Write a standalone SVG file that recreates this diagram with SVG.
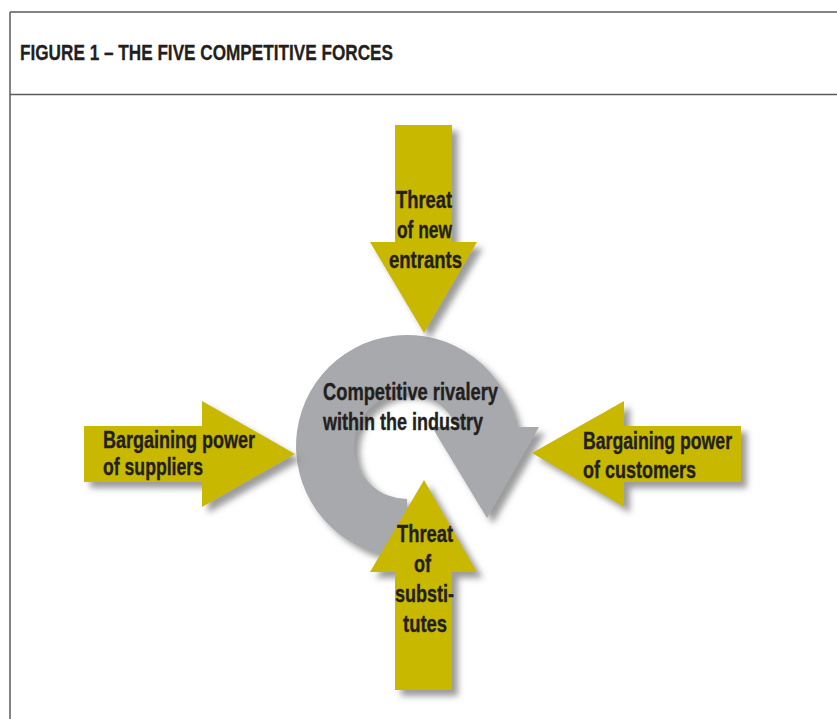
<svg xmlns="http://www.w3.org/2000/svg" width="837" height="719" viewBox="0 0 837 719">
  <defs>
    <filter id="drop" x="-20%" y="-20%" width="150%" height="150%">
      <feGaussianBlur in="SourceAlpha" stdDeviation="3" result="b"/>
      <feOffset in="b" dx="6" dy="6" result="o"/>
      <feFlood flood-color="#7a7a7a" flood-opacity="0.75"/>
      <feComposite in2="o" operator="in" result="s"/>
      <feMerge>
        <feMergeNode in="s"/>
        <feMergeNode in="SourceGraphic"/>
      </feMerge>
    </filter>
  </defs>
  <style>
    .frame { fill: none; stroke: #5a5a5a; stroke-width: 1.5; }
    .force { fill: #c9b800; }
    .rival { fill: #a7a9ac; }
    .lbl { font-family: "Liberation Sans Narrow", "Liberation Sans", Arial, sans-serif; font-weight: bold; fill: #231f20; stroke: #231f20; stroke-width: 0.4; font-size: 24px; }
    .title { font-family: "Liberation Sans Narrow", "Liberation Sans", Arial, sans-serif; font-weight: bold; fill: #231f20; stroke: #231f20; stroke-width: 0.3; font-size: 21.5px; }
  </style>

  <rect width="837" height="719" fill="#ffffff"/>

  <!-- figure frame and header -->
  <g id="frame">
    <line class="frame" x1="10" y1="12" x2="837" y2="12"/>
    <line class="frame" x1="10" y1="12" x2="10" y2="719"/>
    <line class="frame" x1="10" y1="94.5" x2="837" y2="94.5" stroke-width="2"/>
    <text class="title" x="20" y="60" textLength="373" lengthAdjust="spacingAndGlyphs">FIGURE 1 – THE FIVE COMPETITIVE FORCES</text>
  </g>

  <!-- central rivalry: circular arrow -->
  <g id="rivalry">
    <g filter="url(#drop)">
      <path class="rival" d="M407,557 A111,111 0 1 1 516.4,427 L456.5,427 A53,53 0 1 0 407,499 Z"/>
      <polygon class="rival" points="432,427 539,427 487,518"/>
    </g>
  </g>

  <!-- threat of new entrants (downward arrow) -->
  <g id="new-entrants">
    <polygon class="force" filter="url(#drop)" points="395,125 452,125 452,242 477,242 424,333 370,242 395,242"/>
    <text class="lbl" x="424" y="208" text-anchor="middle" textLength="56" lengthAdjust="spacingAndGlyphs">Threat</text>
    <text class="lbl" x="424.5" y="238" text-anchor="middle" textLength="55" lengthAdjust="spacingAndGlyphs">of new</text>
    <text class="lbl" x="425.5" y="268" text-anchor="middle" textLength="73" lengthAdjust="spacingAndGlyphs">entrants</text>
  </g>

  <!-- bargaining power of suppliers (rightward arrow) -->
  <g id="suppliers">
    <polygon class="force" filter="url(#drop)" points="84,426 202,426 202,401 295,454 202,507 202,482 84,482"/>
    <text class="lbl" x="103" y="448" textLength="152" lengthAdjust="spacingAndGlyphs">Bargaining power</text>
    <text class="lbl" x="103" y="475" textLength="100" lengthAdjust="spacingAndGlyphs">of suppliers</text>
  </g>

  <!-- bargaining power of customers (leftward arrow) -->
  <g id="customers">
    <polygon class="force" filter="url(#drop)" points="741,426 624,426 624,401 532,453 624,507 624,482 741,482"/>
    <text class="lbl" x="583" y="449" textLength="149" lengthAdjust="spacingAndGlyphs">Bargaining power</text>
    <text class="lbl" x="583" y="478" textLength="113" lengthAdjust="spacingAndGlyphs">of customers</text>
  </g>

  <!-- threat of substitutes (upward arrow) -->
  <g id="substitutes">
    <polygon class="force" filter="url(#drop)" points="424,480 477,572 452,572 452,690 395,690 395,572 370,572"/>
    <text class="lbl" x="425" y="542" text-anchor="middle" textLength="56" lengthAdjust="spacingAndGlyphs">Threat</text>
    <text class="lbl" x="422.5" y="572" text-anchor="middle" textLength="17" lengthAdjust="spacingAndGlyphs">of</text>
    <text class="lbl" x="424.5" y="602" text-anchor="middle" textLength="59" lengthAdjust="spacingAndGlyphs">substi-</text>
    <text class="lbl" x="425" y="632" text-anchor="middle" textLength="44" lengthAdjust="spacingAndGlyphs">tutes</text>
  </g>

  <!-- rivalry label sits above all shapes -->
  <g id="rivalry-label">
    <text class="lbl" x="323" y="400" textLength="175" lengthAdjust="spacingAndGlyphs">Competitive rivalery</text>
    <text class="lbl" x="323" y="430" textLength="160" lengthAdjust="spacingAndGlyphs">within the industry</text>
  </g>
</svg>
